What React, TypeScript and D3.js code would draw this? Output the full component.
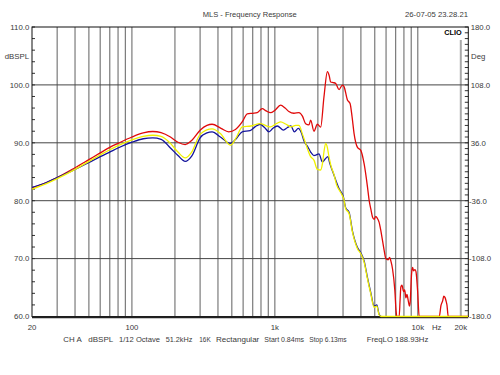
import React from 'react';
import * as d3 from 'd3';

// ---- data ----
const redSeries: [number, number][] = [
  [20, 82.2], [25, 83.1], [30, 84.0], [40, 85.7], [50, 87.1], [60, 88.25], [70, 89.2], [80, 89.9],
  [100, 91.0], [120, 91.7], [140, 91.95], [160, 91.75], [186, 91.0], [210, 90.1], [236, 89.7],
  [262, 90.4], [301, 92.2], [335, 93.0], [364, 93.2], [420, 92.5], [476, 91.9], [530, 92.3],
  [591, 93.6], [641, 95.0], [700, 95.1], [753, 95.2], [816, 95.9], [870, 95.5], [933, 95.2],
  [1000, 95.6], [1097, 96.5], [1180, 96.0], [1254, 95.4], [1360, 95.1], [1474, 95.2], [1560, 94.6],
  [1642, 93.3], [1732, 93.1], [1781, 93.9], [1878, 92.0], [1984, 93.2], [2092, 92.7], [2208, 98.0],
  [2332, 102.3], [2400, 101.6], [2460, 100.5], [2560, 100.4], [2666, 100.25], [2812, 99.2],
  [2970, 99.97], [3048, 99.7], [3220, 97.4], [3360, 96.8], [3470, 94.5], [3584, 91.6], [3787, 89.2],
  [3993, 88.7], [4212, 86.4], [4447, 82.4], [4566, 80.1], [4700, 78.5], [4822, 77.2], [4950, 76.8],
  [5086, 77.3], [5200, 77.0], [5360, 76.3], [5500, 75.0], [5668, 73.1], [5830, 71.3], [5978, 70.0],
  [6204, 69.8], [6350, 70.2], [6480, 69.6], [6660, 68.2], [6912, 64.5], [7050, 61.0], [7140, 60],
  [7410, 60], [7520, 62.8], [7614, 65.1], [7750, 65.4], [7958, 64.3], [8100, 64.6], [8258, 63.2],
  [8400, 63.8], [8570, 62.8], [8750, 61.8], [8850, 62.5], [9052, 67.4], [9200, 68.5], [9350, 67.9],
  [9550, 68.1], [9704, 67.8], [9970, 64.5], [10232, 60], [14140, 60], [14530, 61.9], [14930, 62.7],
  [15200, 63.5], [15500, 63.3], [15800, 62.6], [16000, 62.0], [16340, 60], [22500, 60],
];

const blueSeries: [number, number][] = [
  [20, 82.3], [25, 83.1], [30, 84.0], [40, 85.4], [50, 86.6], [60, 87.6], [70, 88.4], [80, 89.1],
  [100, 90.1], [120, 90.7], [140, 90.85], [160, 90.6], [186, 89.1], [210, 87.8], [236, 86.8],
  [262, 87.7], [301, 90.9], [335, 91.7], [364, 91.9], [416, 91.0], [488, 89.9], [540, 90.8],
  [591, 91.9], [670, 92.1], [730, 92.8], [790, 93.2], [850, 92.6], [910, 91.9], [970, 92.5],
  [1040, 92.9], [1150, 92.2], [1220, 92.6], [1295, 92.9], [1370, 91.9], [1460, 92.5], [1530, 91.8],
  [1600, 90.3], [1700, 89.3], [1781, 88.4], [1878, 87.8], [1950, 87.9], [2036, 88.1], [2150, 86.7],
  [2250, 87.2], [2350, 87.6], [2420, 86.5], [2594, 84.4], [2812, 82.1], [3020, 80.6], [3130, 78.8],
  [3306, 78.0], [3490, 74.8], [3787, 71.9], [3993, 71.0], [4212, 69.6], [4447, 66.7], [4692, 64.1],
  [4948, 61.8], [5168, 62.0], [5360, 60.4], [5550, 60],
];

const yellowSeries: [number, number][] = [
  [20, 82.0], [25, 82.9], [30, 83.8], [40, 85.4], [50, 86.8], [60, 87.9], [70, 88.8], [80, 89.5],
  [100, 90.5], [120, 91.1], [140, 91.3], [160, 91.1], [186, 89.9], [210, 88.4], [236, 87.4],
  [262, 88.4], [301, 91.5], [364, 92.4], [416, 91.6], [488, 89.6], [540, 91.0], [591, 92.75],
  [680, 92.9], [790, 93.3], [880, 92.9], [933, 92.75], [1040, 93.4], [1097, 93.6], [1200, 93.2],
  [1300, 92.75], [1400, 93.0], [1474, 93.0], [1560, 91.5], [1642, 89.9], [1781, 87.6], [1878, 87.0],
  [1984, 85.4], [2092, 85.3], [2150, 86.3], [2208, 88.5], [2268, 89.9], [2330, 89.2], [2392, 87.6],
  [2460, 86.2], [2594, 84.5], [2700, 82.8], [2890, 81.4], [3048, 80.1], [3130, 78.6], [3306, 77.8],
  [3490, 74.6], [3787, 71.7], [3993, 70.85], [4212, 69.4], [4447, 66.5], [4692, 63.9], [4948, 61.6],
  [5168, 61.8], [5360, 60.3], [5550, 60], [22500, 60],
];

const freqGrid = [30, 40, 50, 60, 70, 80, 90, 100, 200, 300, 400, 500, 600, 700, 800, 900,
  1000, 2000, 3000, 4000, 5000, 6000, 7000, 8000, 9000, 10000];
const freqEnd = 20000;
const xTickValues = [20, 100, 1000, 10000, 20000];
const xTickLabels = ['20', '100', '1k', '10k', '20k'];
const dbTicks = [60, 70, 80, 90, 100, 110];
const dbLabels = ['60.0', '70.0', '80.0', '90.0', '100.0', '110.0'];
const degTicks = [-180, -108, -36, 36, 108, 180];
const degLabels = ['-180.0', '-108.0', '-36.0', '36.0', '108.0', '180.0'];
const infoTexts = ['CH A', 'dBSPL', '1/12 Octave', '51.2kHz', '16K', 'Rectangular', 'Start 0.84ms', 'Stop 6.13ms', 'FreqLO 188.93Hz'];
const titleText = 'MLS - Frequency Response';
const dateText = '26-07-05 23.28.21';

// ---- layout ----
const W = 500, H = 375;
const L = 32, R = 468.3, T = 27, B = 316.5;
const FONT = "'Liberation Sans', Arial, sans-serif";
const TXT = '#3a3a3a';

export default function App() {
  const x = d3.scaleLog().domain([20, 20000]).range([L, 460.8]);
  const y = d3.scaleLinear().domain([60, 110]).range([B, T]);
  const yDeg = d3.scaleLinear().domain([-180, 180]).range([B, T]);

  const line = d3.line<[number, number]>()
    .x(d => x(d[0]))
    .y(d => y(d[1]))
    .curve(d3.curveMonotoneX);

  const minorLeft = d3.range(60, 110.01, 2);
  const minorRight = d3.range(60, 110.01, 1);

  const infoX = [63.3, 88.3, 119, 165.7, 199.3, 216, 264.3, 309.3, 366.7];
  const infoW = [18.4, 25, 41, 26.6, 11.4, 43.3, 39.7, 37.4, 61.6];

  return (
    <svg width={W} height={H} style={{ position: 'absolute', left: 0, top: 0, background: '#fff' }}
      fontFamily={FONT}>
      <rect x={0} y={0} width={W} height={H} fill="#fff" />
      <defs>
        <clipPath id="plot">
          <rect x={L} y={T - 1} width={R - L} height={B - T + 2} />
        </clipPath>
      </defs>

      {/* vertical gridlines */}
      {freqGrid.map(f => (
        <line key={f} x1={x(f)} x2={x(f)} y1={T} y2={B} stroke="#7a7a7a" strokeWidth={1.2} />
      ))}
      <line x1={x(freqEnd)} x2={x(freqEnd)} y1={T + 13} y2={B} stroke="#a8a8a8" strokeWidth={2} />

      {/* horizontal gridlines */}
      {dbTicks.slice(1, -1).map(v => (
        <line key={v} x1={L} x2={R} y1={y(v)} y2={y(v)} stroke="#454545" strokeWidth={1} />
      ))}

      {/* minor ticks */}
      {minorLeft.map(v => (
        <line key={'l' + v} x1={L} x2={L + 3} y1={y(v)} y2={y(v)} stroke="#333" strokeWidth={1} />
      ))}
      {minorRight.map(v => (
        <line key={'r' + v} x1={R - 3.5} x2={R} y1={y(v)} y2={y(v)} stroke="#333" strokeWidth={1} />
      ))}

      {/* frame */}
      <rect x={L} y={T} width={R - L} height={B - T} fill="none" stroke="#111" strokeWidth={1} />
      <line x1={L} x2={R} y1={B + 0.8} y2={B + 0.8} stroke="#222" strokeWidth={2} />

      {/* curves */}
      <g clipPath="url(#plot)" fill="none" strokeLinejoin="round">
        <path d={line(redSeries) || ''} stroke="#e00a0a" strokeWidth={1.3} />
        <path d={line(blueSeries) || ''} stroke="#14149c" strokeWidth={1.3} />
        <path d={line(yellowSeries) || ''} stroke="#f0f000" strokeWidth={1.3} />
      </g>

      {/* CLIO logo */}
      <text x={444.3} y={35} fontSize={7.2} fontWeight="bold" fill="#000" textLength={17.4}
        lengthAdjust="spacingAndGlyphs">CLIO</text>

      {/* left labels */}
      {dbTicks.map((v, i) => (
        <text key={v} x={29.3} y={y(v) + 2.8} fontSize={7.8} fill={TXT} textAnchor="end">{dbLabels[i]}</text>
      ))}
      <text x={29} y={y(105) + 2.8} fontSize={7.8} fill={TXT} textAnchor="end">dBSPL</text>

      {/* right labels */}
      {degTicks.map((v, i) => (
        <text key={v} x={v < 0 ? 469 : 470.7} y={yDeg(v) + 2.8} fontSize={7.8} fill={TXT}>{degLabels[i]}</text>
      ))}
      <text x={471} y={y(105) + 2.8} fontSize={7.8} fill={TXT}>Deg</text>

      {/* x labels */}
      {xTickValues.map((v, i) => (
        <text key={v} x={x(v)} y={329.5} fontSize={7.8} fill={TXT} textAnchor="middle">{xTickLabels[i]}</text>
      ))}
      <text x={436.7} y={329.5} fontSize={7.8} fill={TXT} textAnchor="middle">Hz</text>

      {/* title & date */}
      <text x={202.7} y={17} fontSize={7.8} fill={TXT} textLength={94} lengthAdjust="spacingAndGlyphs">{titleText}</text>
      <text x={405} y={17} fontSize={7.8} fill={TXT} textLength={63} lengthAdjust="spacingAndGlyphs">{dateText}</text>

      {/* info line */}
      {infoTexts.map((t, i) => (
        <text key={t} x={infoX[i]} y={342} fontSize={7.8} fill={TXT} textLength={infoW[i]}
          lengthAdjust="spacingAndGlyphs">{t}</text>
      ))}
    </svg>
  );
}
